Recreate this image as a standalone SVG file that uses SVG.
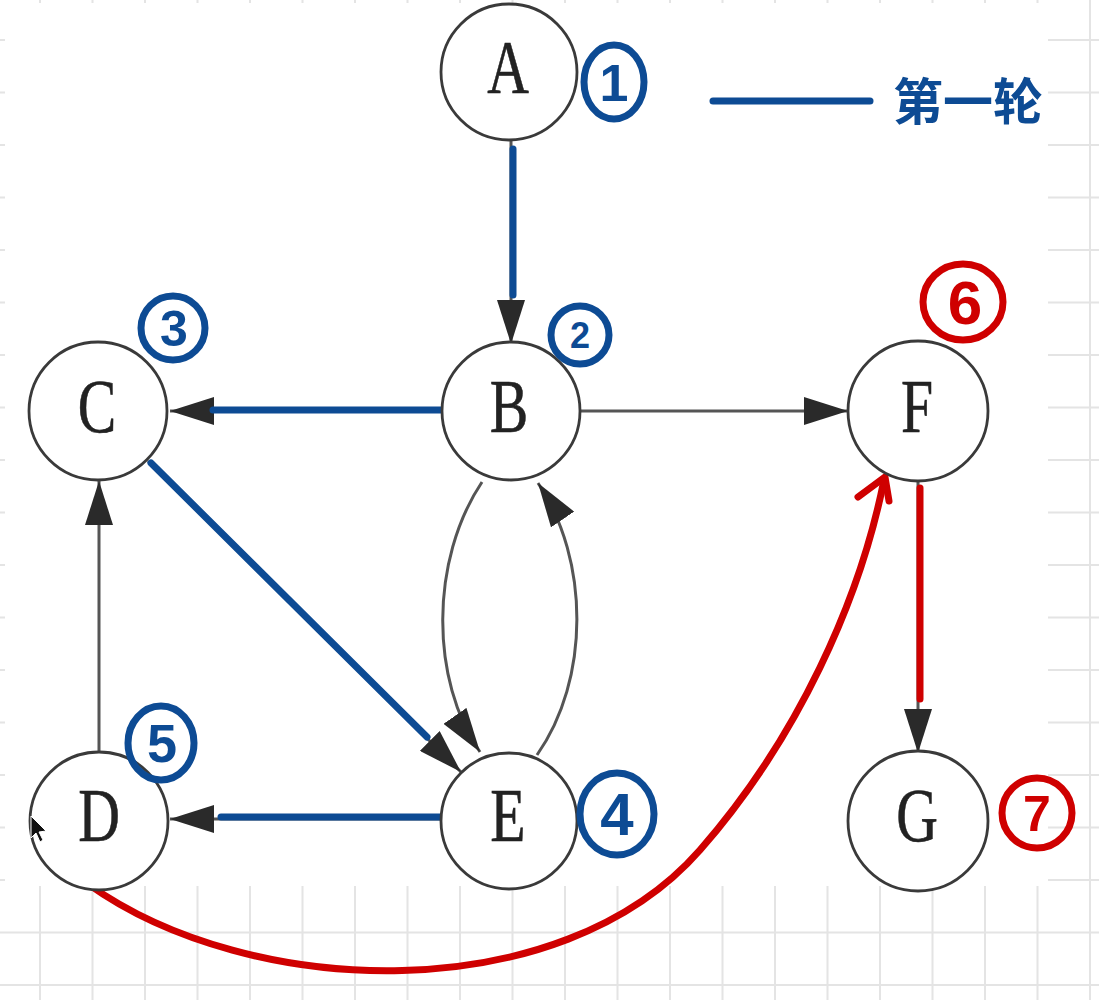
<svg xmlns="http://www.w3.org/2000/svg" width="1099" height="1000" viewBox="0 0 1099 1000">
<defs>
<style>
.grid line{stroke:#e4e4e4;stroke-width:2}
.node circle{fill:#fff;stroke:#3a3a3a;stroke-width:2.8}
.node text{font-family:"Liberation Serif","DejaVu Serif",serif;font-size:76px;fill:#222;text-anchor:middle;stroke:#222;stroke-width:0.6}
.edge{fill:none;stroke:#555;stroke-width:3}
.blue{fill:none;stroke:#0d4b94;stroke-width:7;stroke-linecap:round}
.red{fill:none;stroke:#cf0000;stroke-width:7;stroke-linecap:round;stroke-linejoin:round}
.ringb{fill:none;stroke:#0d4b94;stroke-width:7}
.ringr{fill:none;stroke:#cf0000;stroke-width:7}
.num{font-family:"Liberation Sans","DejaVu Sans",sans-serif;font-weight:bold;text-anchor:middle}
</style>
<marker id="ah" markerUnits="userSpaceOnUse" markerWidth="44" markerHeight="28" viewBox="0 0 44 28" refX="44" refY="14" orient="auto">
<path d="M0,0 L44,14 L0,28 Z" fill="#2a2a2a"/>
</marker>
</defs>
<rect width="1099" height="1000" fill="#fff"/>
<g class="grid">
<line x1="40" y1="0" x2="40" y2="1000"/><line x1="92.5" y1="0" x2="92.5" y2="1000"/><line x1="145" y1="0" x2="145" y2="1000"/><line x1="197.5" y1="0" x2="197.5" y2="1000"/><line x1="250" y1="0" x2="250" y2="1000"/><line x1="302.5" y1="0" x2="302.5" y2="1000"/><line x1="355" y1="0" x2="355" y2="1000"/><line x1="407.5" y1="0" x2="407.5" y2="1000"/><line x1="460" y1="0" x2="460" y2="1000"/><line x1="512.5" y1="0" x2="512.5" y2="1000"/><line x1="565" y1="0" x2="565" y2="1000"/><line x1="617.5" y1="0" x2="617.5" y2="1000"/><line x1="670" y1="0" x2="670" y2="1000"/><line x1="722.5" y1="0" x2="722.5" y2="1000"/><line x1="775" y1="0" x2="775" y2="1000"/><line x1="827.5" y1="0" x2="827.5" y2="1000"/><line x1="880" y1="0" x2="880" y2="1000"/><line x1="932.5" y1="0" x2="932.5" y2="1000"/><line x1="985" y1="0" x2="985" y2="1000"/><line x1="1037.5" y1="0" x2="1037.5" y2="1000"/><line x1="1090" y1="0" x2="1090" y2="1000"/>
<line x1="0" y1="40" x2="1099" y2="40"/><line x1="0" y1="92.5" x2="1099" y2="92.5"/><line x1="0" y1="145" x2="1099" y2="145"/><line x1="0" y1="197.5" x2="1099" y2="197.5"/><line x1="0" y1="250" x2="1099" y2="250"/><line x1="0" y1="302.5" x2="1099" y2="302.5"/><line x1="0" y1="355" x2="1099" y2="355"/><line x1="0" y1="407.5" x2="1099" y2="407.5"/><line x1="0" y1="460" x2="1099" y2="460"/><line x1="0" y1="512.5" x2="1099" y2="512.5"/><line x1="0" y1="565" x2="1099" y2="565"/><line x1="0" y1="617.5" x2="1099" y2="617.5"/><line x1="0" y1="670" x2="1099" y2="670"/><line x1="0" y1="722.5" x2="1099" y2="722.5"/><line x1="0" y1="775" x2="1099" y2="775"/><line x1="0" y1="827.5" x2="1099" y2="827.5"/><line x1="0" y1="880" x2="1099" y2="880"/><line x1="0" y1="932.5" x2="1099" y2="932.5"/><line x1="0" y1="985" x2="1099" y2="985"/>
</g>
<rect x="5" y="3" width="1043" height="883" fill="#fff"/>

<g id="connectors">
<line class="edge" x1="511" y1="140" x2="511" y2="344" marker-end="url(#ah)"/>
<line class="edge" x1="442" y1="411" x2="170" y2="411" marker-end="url(#ah)"/>
<line class="edge" x1="580" y1="411" x2="848" y2="411" marker-end="url(#ah)"/>
<line class="edge" x1="148" y1="461" x2="461" y2="772" marker-end="url(#ah)"/>
<path class="edge" d="M482,482 C430,560 430,680 480,752" marker-end="url(#ah)"/>
<path class="edge" d="M537,755 C590,680 590,560 538,483" marker-end="url(#ah)"/>
<line class="edge" x1="99" y1="753" x2="99" y2="481" marker-end="url(#ah)"/>
<line class="edge" x1="441" y1="819" x2="170" y2="819" marker-end="url(#ah)"/>
<line class="edge" x1="918" y1="480" x2="918" y2="753" marker-end="url(#ah)"/>
<line class="blue" x1="513" y1="149" x2="513" y2="295"/>
<line class="blue" x1="441" y1="410" x2="213" y2="410"/>
<line class="blue" x1="151" y1="463" x2="427" y2="737"/>
<line class="blue" x1="442" y1="817" x2="221" y2="817"/>
<line class="red" x1="920" y1="488" x2="920" y2="699"/>
<path class="red" d="M88,884 C250,1000 560,1010 700,850 C798,738 860,600 884,480"/>
<path class="red" d="M858,497 L885,477 L889,501"/>
</g>

<g id="node-A" class="node"><circle cx="509" cy="72" r="68"/><text transform="translate(508,93) scale(0.76,1)">A</text></g>
<g id="node-B" class="node"><circle cx="511" cy="411" r="69"/><text transform="translate(509,432) scale(0.76,1)">B</text></g>
<g id="node-C" class="node"><circle cx="98" cy="411" r="69"/><text transform="translate(97,432) scale(0.76,1)">C</text></g>
<g id="node-F" class="node"><circle cx="918" cy="411" r="70"/><text transform="translate(917,432) scale(0.76,1)">F</text></g>
<g id="node-D" class="node"><circle cx="99" cy="821" r="69"/><text transform="translate(99,841) scale(0.76,1)">D</text></g>
<g id="node-E" class="node"><circle cx="509" cy="821" r="68"/><text transform="translate(508,841) scale(0.76,1)">E</text></g>
<g id="node-G" class="node"><circle cx="918" cy="821" r="70"/><text transform="translate(917,841) scale(0.76,1)">G</text></g>

<g id="order-labels">
<g id="n1"><ellipse class="ringb" cx="614" cy="82" rx="30" ry="37"/><text class="num" x="614" y="101" font-size="52" fill="#0d4b94">1</text></g>
<g id="n2"><circle class="ringb" cx="580" cy="335" r="29"/><text class="num" x="580" y="348" font-size="36" fill="#0d4b94">2</text></g>
<g id="n3"><circle class="ringb" cx="173" cy="328" r="32"/><text class="num" x="174" y="346" font-size="50" fill="#0d4b94">3</text></g>
<g id="n4"><ellipse class="ringb" cx="617" cy="814" rx="37" ry="41"/><text class="num" x="617" y="835" font-size="60" fill="#0d4b94">4</text></g>
<g id="n5"><ellipse class="ringb" cx="161" cy="743" rx="33" ry="37"/><text class="num" x="162" y="762" font-size="54" fill="#0d4b94">5</text></g>
<g id="n6"><ellipse class="ringr" cx="963" cy="302" rx="40" ry="38"/><text class="num" x="965" y="324" font-size="62" fill="#cf0000">6</text></g>
<g id="n7"><circle class="ringr" cx="1037" cy="813" r="35"/><text class="num" x="1037" y="831" font-size="50" fill="#cf0000">7</text></g>
</g>

<g id="legend">
<line class="blue" x1="713" y1="101" x2="870" y2="101" stroke-width="8"/>
<text x="893" y="120" font-family="'Noto Sans CJK SC',sans-serif" font-size="50" font-weight="bold" fill="#0d4b94">第一轮</text>
</g>

<path d="M31,816 L31,838 L36,833 L40,842 L43,840 L39,832 L46,831 Z" fill="#111" stroke="#fff" stroke-width="1"/>
</svg>
